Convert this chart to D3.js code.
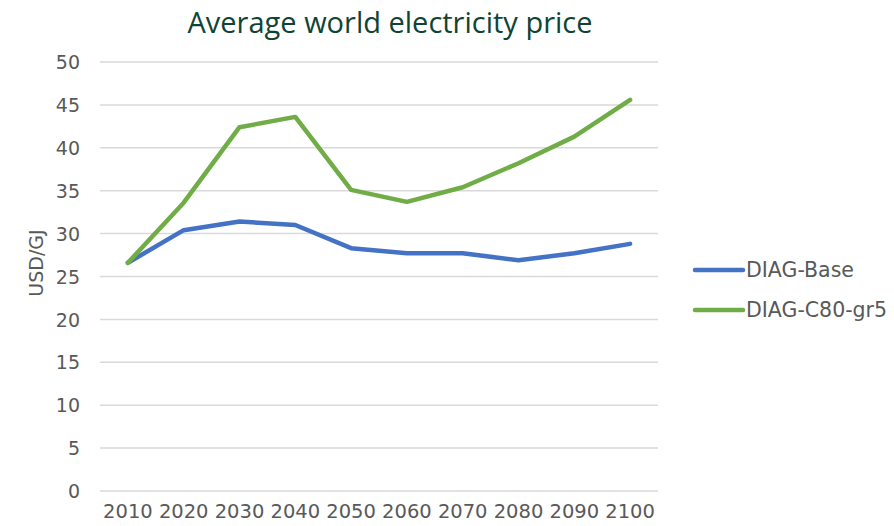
<!DOCTYPE html>
<html>
<head>
<meta charset="utf-8">
<script src="https://cdn.jsdelivr.net/npm/d3@7"></script>
<style>
  body { margin: 0; background: #fff; }
  svg { display: block; }
</style>
</head>
<body>
<div id="chart"></div>
<script>
var years = ["2010","2020","2030","2040","2050","2060","2070","2080","2090","2100"];
var base = [26.6, 30.4, 31.4, 31.0, 28.3, 27.7, 27.7, 26.9, 27.7, 28.8];
var c80 = [26.6, 33.6, 42.4, 43.6, 35.1, 33.7, 35.4, 38.2, 41.3, 45.6];
var seriesNames = ["DIAG-Base", "DIAG-C80-gr5"];
var seriesColors = ["#4472c4", "#70ad47"];
var yTicks = [0,5,10,15,20,25,30,35,40,45,50];

var width = 894, height = 526,
    margin = {top: 62, bottom: 35, left: 100, right: 236};

var svg = d3.select("#chart").append("svg")
  .attr("width", width)
  .attr("height", height);

var x = d3.scaleBand()
  .domain(years)
  .range([margin.left, width - margin.right]);

var y = d3.scaleLinear()
  .domain([0, 50])
  .range([height - margin.bottom, margin.top]);

// title
svg.append("text")
  .attr("x", 390)
  .attr("y", 33)
  .attr("text-anchor", "middle")
  .style("font-family", "'Open Sans', sans-serif")
  .style("font-size", "29px")
  .style("fill", "#0f4434")
  .text("Average world electricity price");

// gridlines
svg.append("g")
  .selectAll("line")
  .data(yTicks)
  .enter()
  .append("line")
  .attr("x1", margin.left)
  .attr("x2", width - margin.right)
  .attr("y1", d => y(d))
  .attr("y2", d => y(d))
  .style("stroke", "#d9d9d9")
  .style("stroke-width", 1.5);

// y axis
var yAxis = svg.append("g")
  .attr("transform", "translate(" + (margin.left - 20) + ",0)")
  .call(d3.axisLeft(y).tickValues(yTicks).tickSize(0).tickPadding(0));
yAxis.select(".domain").remove();
yAxis.selectAll("text")
  .attr("dy", "0.35em")
  .style("font-family", "'DejaVu Sans', sans-serif")
  .style("font-size", "19px")
  .style("fill", "#595959");

// x axis
var xAxis = svg.append("g")
  .attr("transform", "translate(0," + (height - margin.bottom) + ")")
  .call(d3.axisBottom(x).tickSize(0).tickPadding(13));
xAxis.select(".domain").remove();
xAxis.selectAll("text")
  .style("font-family", "'DejaVu Sans', sans-serif")
  .style("font-size", "19.5px")
  .style("fill", "#595959");

// axis title
svg.append("text")
  .attr("transform", "translate(43,263) rotate(-90)")
  .attr("text-anchor", "middle")
  .style("font-family", "'DejaVu Sans', sans-serif")
  .style("font-size", "19px")
  .style("fill", "#595959")
  .text("USD/GJ");

var line = d3.line()
  .x((d, i) => x(years[i]) + x.bandwidth() / 2)
  .y(d => y(d));

[base, c80].forEach(function(s, i) {
  svg.append("path")
    .datum(s)
    .attr("d", line)
    .style("fill", "none")
    .style("stroke", seriesColors[i])
    .style("stroke-width", 4.5)
    .style("stroke-linejoin", "round")
    .style("stroke-linecap", "round");
});

// legend
var legend = svg.append("g")
  .selectAll("g")
  .data(seriesNames)
  .enter()
  .append("g")
  .attr("transform", (d, i) => "translate(695," + (270 + i * 40) + ")");

legend.append("line")
  .attr("x1", 0)
  .attr("x2", 48)
  .style("stroke", (d, i) => seriesColors[i])
  .style("stroke-width", 4.5)
  .style("stroke-linecap", "round");

legend.append("text")
  .attr("x", 51)
  .attr("dy", "0.35em")
  .style("font-family", "'DejaVu Sans', sans-serif")
  .style("font-size", "20.5px")
  .style("fill", "#595959")
  .text(d => d);
</script>
</body>
</html>
